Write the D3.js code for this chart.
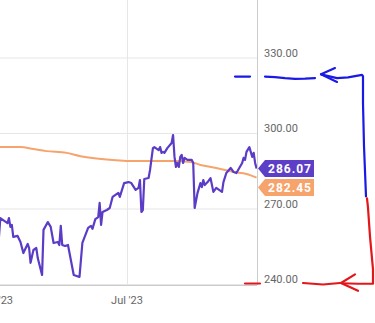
<!DOCTYPE html>
<html><head><meta charset="utf-8">
<script src="https://cdn.jsdelivr.net/npm/d3@7"></script>
<style>html,body{margin:0;padding:0;background:#fff;}svg{display:block;font-family:Roboto,sans-serif;}</style>
</head><body><svg id="c" width="375" height="323"></svg>
<script>
const priceDates = ["2023-04-03","2023-04-04","2023-04-06","2023-04-09","2023-04-10","2023-04-11","2023-04-12","2023-04-13","2023-04-16","2023-04-18","2023-04-20","2023-04-23","2023-04-24","2023-04-25","2023-04-27","2023-04-29","2023-04-30","2023-05-03","2023-05-04","2023-05-07","2023-05-09","2023-05-11","2023-05-14","2023-05-15","2023-05-16","2023-05-17","2023-05-19","2023-05-21","2023-05-25","2023-05-29","2023-05-31","2023-06-04","2023-06-06","2023-06-07","2023-06-09","2023-06-11","2023-06-12","2023-06-13","2023-06-14","2023-06-17","2023-06-19","2023-06-21","2023-06-23","2023-06-25","2023-06-26","2023-06-29","2023-07-02","2023-07-04","2023-07-07","2023-07-09","2023-07-10","2023-07-11","2023-07-12","2023-07-13","2023-07-16","2023-07-17","2023-07-19","2023-07-20","2023-07-23","2023-07-24","2023-07-25","2023-07-26","2023-07-27","2023-07-29","2023-08-01","2023-08-02","2023-08-03","2023-08-04","2023-08-05","2023-08-06","2023-08-07","2023-08-08","2023-08-09","2023-08-10","2023-08-12","2023-08-15","2023-08-16","2023-08-17","2023-08-19","2023-08-21","2023-08-22","2023-08-23","2023-08-24","2023-08-26","2023-08-28","2023-08-30","2023-09-01","2023-09-05","2023-09-06","2023-09-08","2023-09-11","2023-09-13","2023-09-15","2023-09-19","2023-09-20","2023-09-21","2023-09-22","2023-09-24","2023-09-26","2023-09-27","2023-09-28","2023-09-29"];
const priceValues = [258.5,266.4,265.6,264.4,266.4,262.9,263.7,258.9,259.3,256.9,252.5,256.1,254.5,248.6,253.7,254.5,250.5,243.8,261.7,264.8,262.9,256.5,256.9,255.7,263.3,255.7,255.3,255.7,243.8,243.0,256.5,262.5,263.3,262.1,266.0,266.8,272.4,263.7,268.8,269.6,270.4,274.8,275.6,276.4,274.8,280.3,280.7,280.3,277.6,278.4,281.5,268.8,269.6,281.9,282.3,285.5,294.2,294.6,293.4,294.6,292.3,292.7,292.3,294.2,296.2,299.4,290.7,286.7,288.3,286.7,290.7,291.5,288.3,290.3,289.5,289.5,288.3,270.4,276.4,280.3,278.7,281.5,279.5,280.7,282.3,276.8,278.4,276.8,280.7,284.3,286.3,284.7,284.3,288.3,290.3,289.5,292.7,294.6,290.7,292.3,288.3,286.07];
const maDates = ["2023-04-03","2023-04-18","2023-04-27","2023-05-06","2023-05-20","2023-05-29","2023-06-07","2023-06-21","2023-07-02","2023-07-17","2023-08-02","2023-08-14","2023-08-21","2023-09-01","2023-09-13","2023-09-22","2023-09-29"];
const maValues = [294.6,294.6,293.8,293.0,292.3,291.1,290.3,289.5,289.1,289.1,289.1,288.7,287.5,286.3,284.7,283.9,282.45];
const yTicks = [240, 270, 300, 330];
const xTickDates = ["2023-04-01","2023-07-01"];
const xTickLabels = ["Apr '23","Jul '23"];
const lastLabels = ["286.07","282.45"];
// hand-drawn annotations: [x offset from plot right edge, value]
const blueDash = [[-22,322.6],[-7,322.6]];
const blueWave = [[8,322.6],[18,322.4],[28,322.0],[38,321.7],[48,321.8],[58,322.0]];
const blueHead = [[78,326.0],[64,323.5],[80,320.5]];
const blueHook = [[64,323.5],[80,322.0],[91,322.3],[105,323.3],[106,322.8],[106,312],[107,295],[109,275]];
const redHook = [[110,274.2],[111,270.5],[113,259],[116,246],[116,240.3],[101,240.3],[85,240.5]];
const redHead = [[98,244.0],[84,240.6],[101,237.5]];
const redWave = [[83,240.6],[66,240.0],[56,240.3],[46,240.6]];
const redDash = [[-12,240.4],[3,240.4]];

const svg = d3.select("#c");
const W = 257, H = 285;
const x = d3.scaleTime().domain([new Date(2023,3,1), new Date(2023,8,30)]).range([-4, 258]);
const y = d3.scaleLinear().domain([240, 330]).range([284.5, 58]);
const parse = d3.timeParse("%Y-%m-%d");
const prices = priceDates.map((d,i)=>({date:parse(d), v:priceValues[i]}));
const ma = maDates.map((d,i)=>({date:parse(d), v:maValues[i]}));

svg.append("defs").append("clipPath").attr("id","clip").append("rect").attr("x",0).attr("y",0).attr("width",W).attr("height",H);

// grid
svg.append("g").selectAll("line").data(yTicks).join("line")
  .attr("x1",0).attr("x2",W).attr("y1",d=>y(d)).attr("y2",d=>y(d))
  .attr("stroke","#e6e6e6").attr("stroke-width",1);
svg.append("g").selectAll("line").data(xTickDates).join("line")
  .attr("x1",d=>Math.round(x(parse(d)))+0.5).attr("x2",d=>Math.round(x(parse(d)))+0.5)
  .attr("y1",0).attr("y2",H).attr("stroke","#e6e6e6");
// borders
svg.append("line").attr("x1",W+0.5).attr("x2",W+0.5).attr("y1",0).attr("y2",H).attr("stroke","#cccccc");
svg.append("line").attr("x1",0).attr("x2",W).attr("y1",H+0.5).attr("y2",H+0.5).attr("stroke","#cccccc");

// y labels
svg.append("g").selectAll("text").data(yTicks).join("text")
  .attr("x",W+7).attr("y",d=>y(d)-1.5).attr("font-size",11).attr("fill","#666")
  .text(d=>d3.format(".2f")(d));
// x labels
svg.append("g").selectAll("text").data(xTickDates).join("text")
  .attr("x",d=>x(parse(d))).attr("y",304).attr("text-anchor","middle").attr("font-size",11).attr("fill","#666")
  .text((d,i)=>xTickLabels[i]);

const g = svg.append("g").attr("clip-path","url(#clip)");
g.append("path").datum(ma).attr("fill","none").attr("stroke","#f7a46c").attr("stroke-width",2)
  .attr("d", d3.line().x(d=>x(d.date)).y(d=>y(d.v)).curve(d3.curveMonotoneX));
g.append("path").datum(prices).attr("fill","none").attr("stroke","#5b3cc6").attr("stroke-width",2.2)
  .attr("stroke-linejoin","round")
  .attr("d", d3.line().x(d=>x(d.date)).y(d=>y(d.v)));

// last value labels
function tag(cy, color, txt){
  const gg = svg.append("g");
  const x0 = W+1;
  gg.append("path").attr("fill",color)
    .attr("d",`M${x0},${cy} L${x0+7},${cy-8.5} L${x0+56},${cy-8.5} L${x0+56},${cy+8.5} L${x0+7},${cy+8.5} Z`);
  gg.append("text").attr("x",x0+32).attr("y",cy+4.5).attr("text-anchor","middle")
    .attr("fill","#fff").attr("font-size",12).attr("font-weight","bold").attr("letter-spacing",1).text(txt);
}
tag(168.5, "#5d3ec6", lastLabels[0]);
tag(187.5, "#f7a46c", lastLabels[1]);

// annotations
const pen = d3.line().x(p=>W+p[0]).y(p=>y(p[1]));
const annot = svg.append("g").attr("fill","none").attr("stroke-width",2.2)
  .attr("stroke-linecap","round").attr("stroke-linejoin","round");
[blueDash, blueWave, blueHead, blueHook].forEach(m => annot.append("path").attr("d",pen(m)).attr("stroke","#1a1ae6"));
[redHook, redHead, redWave, redDash].forEach(m => annot.append("path").attr("d",pen(m)).attr("stroke","#e3161a"));
</script></body></html>
